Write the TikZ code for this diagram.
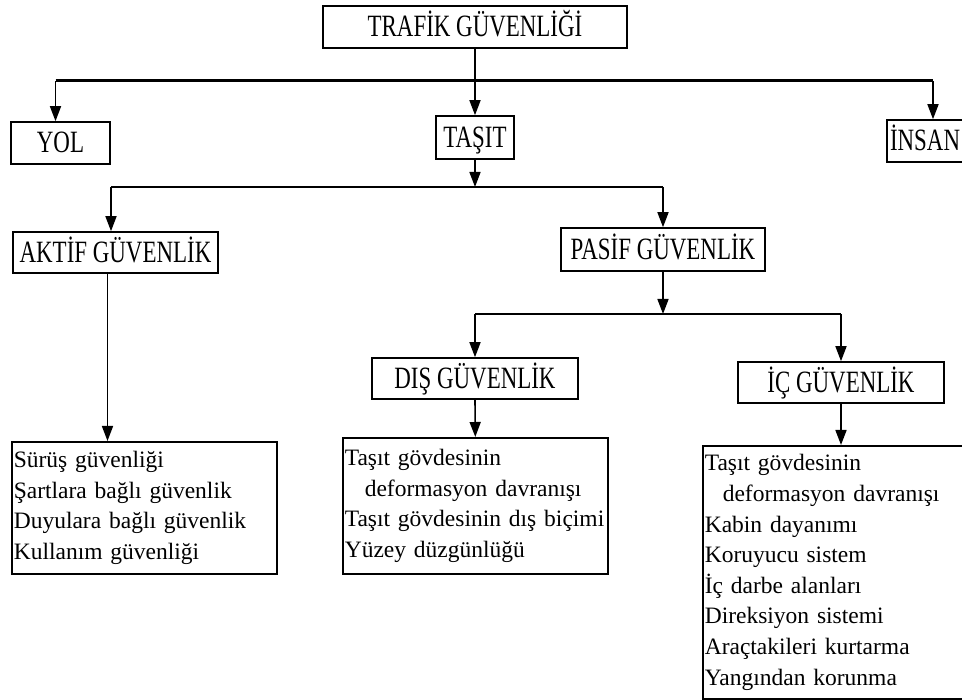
\documentclass[tikz,border=0pt]{standalone}
\usepackage{fontspec}
\setmainfont{Liberation Serif}
\newfontfamily\headfont[FakeStretch=0.74]{Liberation Serif}
\usetikzlibrary{arrows.meta}

\tikzset{
  kutu/.style={draw, line width=1.6pt, font=\headfont\fontsize{31}{33}\selectfont, inner sep=0pt, text height=20pt, text depth=0pt},
  liste/.style={draw, line width=1.6pt, font=\fontsize{23.5}{30.6}\selectfont, align=left, anchor=north west, inner xsep=2pt, inner ysep=0pt},
  ok/.style={-{Triangle[length=15pt,width=11pt]}, line width=1.6pt},
}

\begin{document}
\begin{tikzpicture}[x=1pt, y=-1pt]
  \useasboundingbox (0,0) rectangle (962,700);
  \clip (0,0) rectangle (962,700);

  \node[kutu, minimum width=304pt, minimum height=42pt] (TG) at (475,27) {TRAFİK GÜVENLİĞİ};

  \node[kutu, minimum width=99pt, minimum height=42pt] (YOL) at (60.5,143) {YOL};
  \node[kutu, minimum width=78pt, minimum height=43pt] (TASIT) at (475,137.5) {TAŞIT};
  \node[kutu, minimum width=92pt, minimum height=42pt, text width=86pt, align=left] (INSAN) at (933,141) {İNSAN};

  \node[kutu, minimum width=205pt, minimum height=41pt] (AG) at (115.5,252.5) {AKTİF GÜVENLİK};
  \node[kutu, minimum width=204pt, minimum height=43pt] (PG) at (663,249.5) {PASİF GÜVENLİK};
  \node[kutu, minimum width=206pt, minimum height=41pt] (DG) at (475,378.5) {DIŞ GÜVENLİK};
  \node[kutu, minimum width=206pt, minimum height=41pt] (IG) at (841,382.5) {İÇ GÜVENLİK};

  \node[liste, text width=261pt, minimum height=132pt] (AGl) at (11,441)
    {Sürüş güvenliği\\ Şartlara bağlı güvenlik\\ Duyulara bağlı güvenlik\\ Kullanım güvenliği};
  \node[liste, text width=261pt, minimum height=136pt] (DGl) at (342,437)
    {Taşıt gövdesinin\\ \hspace*{20pt}deformasyon davranışı\\ Taşıt gövdesinin dış biçimi\\ Yüzey düzgünlüğü};
  \node[liste, text width=276pt, minimum height=253pt] (IGl) at (702,445)
    {Taşıt gövdesinin\\ \hspace*{18pt}deformasyon davranışı\\ Kabin dayanımı\\ Koruyucu sistem\\ İç darbe alanları\\ Direksiyon sistemi\\ Araçtakileri kurtarma\\ Yangından korunma};

  \coordinate (b1) at (475,81);
  \coordinate (b2) at (475,187);
  \coordinate (b3) at (663,314);

  \draw[ok] (TG.south) -- (TASIT.north);
  \draw[line width=3pt] ([xshift=-5pt]YOL.north |- b1) -- (INSAN.north |- b1);
  \draw[ok] ([xshift=-5pt]YOL.north |- b1) -- ([xshift=-5pt]YOL.north);
  \draw[ok] (INSAN.north |- b1) -- (INSAN.north);

  \draw[ok] (TASIT.south) -- (b2);
  \draw[line width=2.2pt] ([xshift=-4.5pt]AG.north |- b2) -- (PG.north |- b2);
  \draw[ok] ([xshift=-4.5pt]AG.north |- b2) -- ([xshift=-4.5pt]AG.north);
  \draw[ok] (PG.north |- b2) -- (PG.north);

  \draw[ok] ([xshift=-8pt]AG.south) -- ([xshift=-8pt]AG.south |- AGl.north);

  \draw[ok] (PG.south) -- (b3);
  \draw[line width=2.2pt] (DG.north |- b3) -- (IG.north |- b3);
  \draw[ok] (DG.north |- b3) -- (DG.north);
  \draw[ok] (IG.north |- b3) -- (IG.north);

  \draw[ok] (DG.south) -- (DGl.north);
  \draw[ok] (IG.south) -- (IG.south |- IGl.north);
\end{tikzpicture}
\end{document}
